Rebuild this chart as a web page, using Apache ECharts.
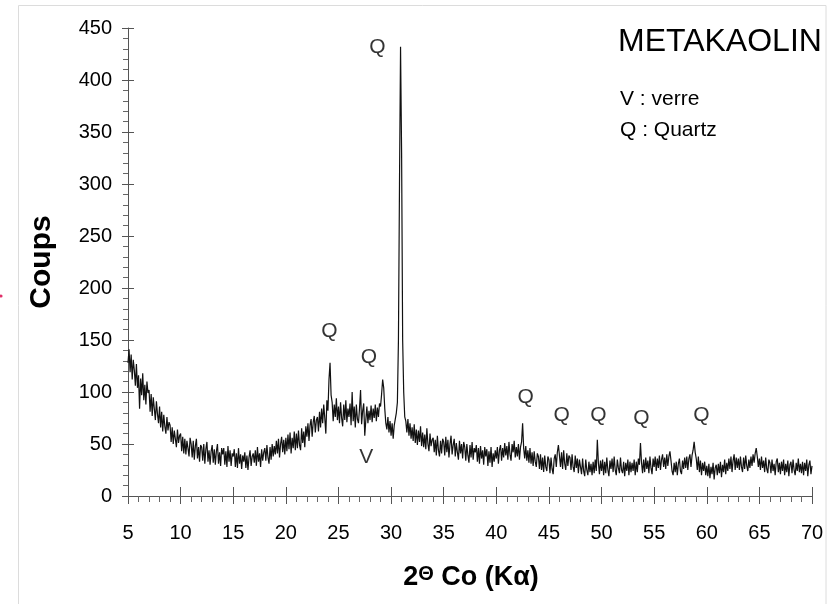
<!DOCTYPE html>
<html><head><meta charset="utf-8">
<script src="https://cdn.jsdelivr.net/npm/echarts@6/dist/echarts.min.js"></script>
<style>html,body{margin:0;padding:0;background:#fff}#c{width:837px;height:604px}</style>
</head><body><div id="c"></div>
<script>
// 2θ scan: first angle and step (degrees)
const startAngle = 5, stepAngle = 0.1;
// Counts, 0.1° apart
const counts_5_15 = [
128,141,119,136,112,131,121,106,127,104,
116,84,113,97,118,92,107,88,110,99,
102,81,98,77,95,84,73,91,79,70,
86,66,81,62,78,67,60,76,63,71,
68,52,66,50,63,55,47,64,51,58,
60,43,57,41,55,40,53,46,38,56,
50,37,53,35,48,55,36,47,33,49,
47,34,50,31,45,52,33,44,30,43,
49,32,45,30,43,50,31,42,29,46,
40,46,30,43,28,48,33,44,29,41];
const counts_15_25 = [
38,45,28,41,27,46,31,40,26,39,
33,42,27,39,25,37,44,29,38,41,
32,44,29,47,33,41,28,45,34,42,
46,34,49,37,31,47,35,50,38,48,
40,53,41,55,37,50,57,42,54,40,
56,43,59,45,61,41,56,46,62,44,
60,46,63,49,44,65,51,62,47,67,
57,70,53,68,74,57,71,77,61,73,
76,62,81,66,84,70,88,75,60,92,
82,112,128,97,90,72,88,76,94,73];
const counts_25_35 = [
86,70,90,75,67,88,73,92,71,84,
76,89,68,100,72,86,66,88,74,70,
84,102,69,82,89,58,73,86,70,82,
73,87,71,84,75,88,72,85,76,89,
86,98,112,104,84,70,64,76,61,72,
58,70,55,68,74,80,90,150,300,432,
330,150,100,76,72,61,74,58,70,55,
66,53,69,51,64,49,63,52,67,48,
61,47,59,45,65,50,43,60,48,54,
56,42,54,39,58,44,38,53,41,55];
const counts_35_45 = [
52,39,57,42,54,37,50,58,40,49,
55,38,51,42,35,53,41,50,36,52,
47,34,50,39,32,49,37,52,35,46,
42,49,33,46,31,48,36,44,30,47,
38,45,29,43,32,47,28,41,33,44,
36,47,31,44,49,34,46,37,51,39,
48,35,52,40,34,50,42,53,37,47,
38,50,35,47,52,70,46,36,48,34,
44,32,46,31,42,29,43,33,28,41,
38,26,40,25,37,23,39,28,24,38];
const counts_45_55 = [
35,22,37,26,21,36,40,28,42,49,
39,28,42,26,44,31,25,41,29,39,
37,25,40,28,23,39,27,36,22,35,
34,21,36,24,19,35,25,20,33,23,
31,20,33,22,35,24,54,32,21,34,
24,35,20,33,22,37,25,19,34,26,
36,23,38,25,20,35,27,22,37,25,
22,33,19,32,24,35,20,33,23,32,
24,35,20,33,23,36,30,51,32,22,
35,23,37,26,34,22,38,27,21,36];
const counts_55_65 = [
28,38,24,36,27,39,25,35,40,28,
37,26,40,29,38,43,34,24,20,32,
23,33,20,31,36,24,21,34,26,37,
27,38,25,36,40,28,39,44,52,42,
36,25,38,23,34,20,32,24,33,20,
29,19,31,17,28,21,32,16,27,30,
20,31,22,33,18,30,23,35,21,32,
24,36,26,38,23,34,40,25,37,27,
36,25,38,28,23,37,26,39,29,24,
35,27,38,29,40,32,41,46,38,28];
const counts_65_70 = [
36,25,38,27,34,23,37,26,22,35,
32,22,35,24,31,20,33,36,23,32,
21,33,24,35,20,31,23,34,19,30,
33,22,35,25,20,32,24,36,23,31,
22,33,20,32,24,35,19,30,34,21,
29];

// Axis ticks
const xMin = 5, xMax = 70, xStep = 5;
const yMin = 0, yMax = 450, yStep = 50;

// Peak annotations (data coordinates)
const peakLabels = ['Q','Q','Q','Q','Q','Q','Q','Q','V'];
const peakLabelX = [28.7,24.15,27.9,42.8,46.2,49.7,53.8,59.5,27.65];
const peakLabelY = [432,158,133,95,78,78,75,78,37];

const chartTitle = 'METAKAOLIN';
const legendLines = ['V : verre','Q : Quartz'];
const yName = 'Coups';

const FF = "'Liberation Sans', Arial, Helvetica, sans-serif";
const allCounts = [].concat(counts_5_15, counts_15_25, counts_25_35, counts_35_45, counts_45_55, counts_55_65, counts_65_70);
const traceData = allCounts.map((c, i) => [+(startAngle + i * stepAngle).toFixed(2), c]);
const labelData = peakLabels.map((t, i) => ({name: t, value: [peakLabelX[i], peakLabelY[i]]}));

const axisColor = '#555';
const chart = echarts.init(document.getElementById('c'), null, {renderer: 'canvas'});
chart.setOption({
  animation: false,
  backgroundColor: '#fff',
  grid: {left: 128, right: 25, top: 28, bottom: 108, containLabel: false},
  xAxis: [{
    type: 'value', min: xMin, max: xMax, interval: xStep, position: 'bottom',
    axisLine: {show: true, onZero: false, lineStyle: {color: axisColor, width: 1}},
    axisTick: {show: true, inside: false, length: 8, lineStyle: {color: axisColor}},
    minorTick: {show: true, splitNumber: 5, length: 6, lineStyle: {color: '#666'}},
    axisLabel: {fontSize: 20, color: '#000', margin: 27, fontFamily: FF},
    splitLine: {show: false}, minorSplitLine: {show: false}
  }, {
    type: 'value', min: xMin, max: xMax, interval: xStep, position: 'bottom',
    axisLine: {show: false}, axisLabel: {show: false},
    axisTick: {show: true, inside: true, length: 9, lineStyle: {color: axisColor}},
    splitLine: {show: false}
  }],
  yAxis: [{
    type: 'value', min: yMin, max: yMax, interval: yStep, position: 'left',
    axisLine: {show: true, onZero: false, lineStyle: {color: axisColor, width: 1}},
    axisTick: {show: true, inside: false, length: 6, lineStyle: {color: axisColor}},
    minorTick: {show: true, splitNumber: 5, length: 5, lineStyle: {color: '#666'}},
    axisLabel: {fontSize: 20, color: '#000', margin: 16, fontFamily: FF},
    splitLine: {show: false}, minorSplitLine: {show: false}
  }, {
    type: 'value', min: yMin, max: yMax, interval: yStep, position: 'left', offset: 0,
    axisLine: {show: false}, axisLabel: {show: false},
    axisTick: {show: true, inside: true, length: 6, lineStyle: {color: axisColor}},
    splitLine: {show: false}
  }],
  series: [{
    type: 'line', xAxisIndex: 0, yAxisIndex: 0, data: traceData,
    showSymbol: false, symbol: 'none', sampling: null,
    lineStyle: {color: '#111', width: 1.2}, z: 3
  }, {
    type: 'scatter', xAxisIndex: 0, yAxisIndex: 0, data: labelData,
    symbolSize: 1, itemStyle: {color: 'rgba(0,0,0,0)'},
    label: {show: true, position: 'inside', formatter: p => p.name, fontSize: 21, color: '#000', fontFamily: FF},
    silent: true, z: 4
  }],
  graphic: [
    {type: 'rect', shape: {x: 18.5, y: 5.5, width: 807.5, height: 640}, style: {fill: 'none', stroke: '#dcdcdc', lineWidth: 1}, silent: true, z: -1},
    {type: 'circle', shape: {cx: 1, cy: 296, r: 1.6}, style: {fill: '#e0306a'}},
    {type: 'text', x: 42, y: 262, rotation: Math.PI / 2,
      style: {text: yName, font: 'bold 30px ' + FF, fill: '#000', align: 'center', verticalAlign: 'middle'}},
    {type: 'text', x: 471, y: 578,
      style: {text: '{a|2}{t|Θ}{a| Co (Kα)}', align: 'center', verticalAlign: 'middle', fill: '#000',
        rich: {a: {font: 'bold 27px ' + FF, fill: '#000'}, t: {font: 'bold 20px ' + FF, fill: '#000', verticalAlign: 'top'}}}},
    {type: 'text', x: 618, y: 42,
      style: {text: chartTitle, font: '32px ' + FF, fill: '#000', align: 'left', verticalAlign: 'middle'}},
    {type: 'text', x: 620, y: 99,
      style: {text: legendLines[0], font: '21px ' + FF, fill: '#000', align: 'left', verticalAlign: 'middle'}},
    {type: 'text', x: 620, y: 130,
      style: {text: legendLines[1], font: '21px ' + FF, fill: '#000', align: 'left', verticalAlign: 'middle'}}
  ]
});
</script>
</body></html>
